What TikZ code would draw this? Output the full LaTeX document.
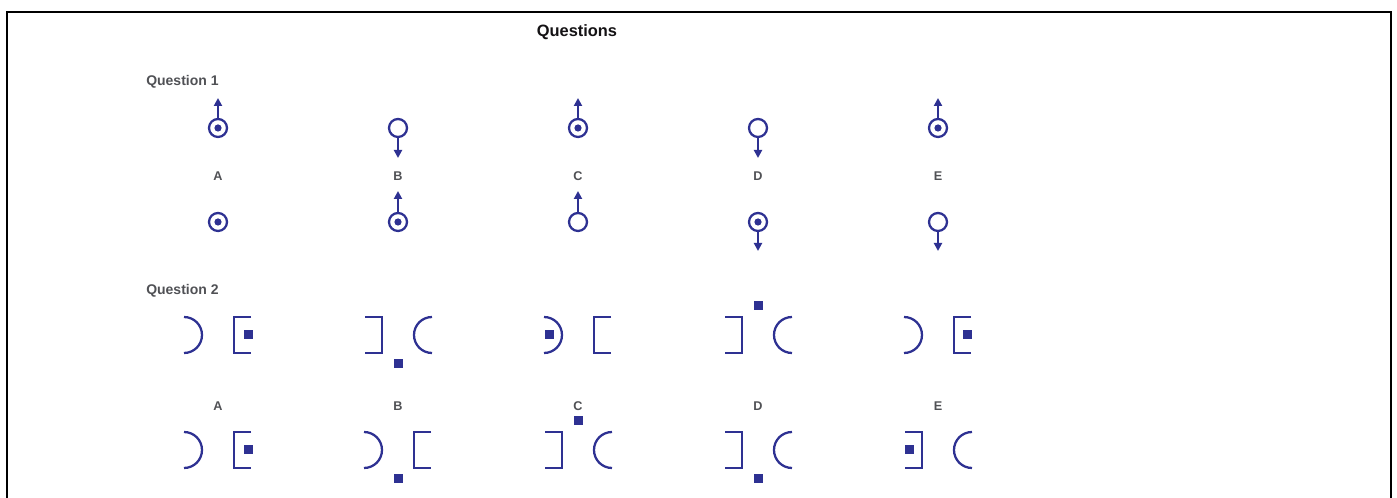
\documentclass[tikz,border=0pt]{standalone}
\usepackage{fontspec}
\setmainfont{Liberation Sans}
\usetikzlibrary{arrows.meta}
\definecolor{qblue}{RGB}{46,49,146}
\definecolor{qgray}{RGB}{80,81,85}
\definecolor{qblack}{RGB}{20,18,20}
\tikzset{
  shp/.style={draw=qblue,line width=1.7pt},
  lpar/.pic={\draw[shp] (-34,-18) arc[start angle=-90,end angle=90,radius=18];},
  rpar/.pic={\draw[shp] (34,-18) arc[start angle=270,end angle=90,radius=18];},
  lbrk/.pic={\draw[shp] (-33,-18) -- (-16,-18) -- (-16,18) -- (-33,18);},
  rbrk/.pic={\draw[shp] (33,-18) -- (16,-18) -- (16,18) -- (33,18);},
  sqr/.pic={\fill[qblue] (-4.5,-4.5) rectangle (4.5,4.5);}
}
\begin{document}
\begin{tikzpicture}[x=0.75pt,y=-0.75pt,
  coil/.style={circle,draw=qblue,line width=1.7pt,minimum size=13.5pt,inner sep=0pt},
  dot/.style={path picture={\fill[qblue] (path picture bounding box.center) circle (2.7pt);}},
  arr/.style={draw=qblue,line width=1.9pt,-{Triangle[length=6pt,width=6pt]}},
  lbl/.style={font=\bfseries\fontsize{9.5}{11}\selectfont,text=qgray},
  qhead/.style={font=\bfseries\fontsize{10.5}{12}\selectfont,text=qgray,anchor=west,inner sep=0pt},
]
\useasboundingbox (0,0) rectangle (1397,498);
\fill[white] (0,0) rectangle (1397,498);
\draw[black,line width=2.2pt,line join=miter] (7,510) -- (7,12) -- (1391,12) -- (1391,510);

\node[font=\bfseries\fontsize{12.3}{14}\selectfont,text=qblack] (title) at (577,32) {Questions};

% ---------- Question 1 ----------
\node[qhead] (q1) at (146,82) {Question 1};

\node[coil,dot] (A1) at (218,128) {};
\node[coil,dot] (A2) at (218,222) {};
\coordinate (A1e) at (218,98);
\draw[arr] (A1) -- (A1e);

\node[coil] (B1) at (398,128) {};
\node[coil,dot] (B2) at (398,222) {};
\coordinate (B1e) at (398,158);
\coordinate (B2e) at (398,191);
\draw[arr] (B1) -- (B1e);
\draw[arr] (B2) -- (B2e);

\node[coil,dot] (C1) at (578,128) {};
\node[coil] (C2) at (578,222) {};
\coordinate (C1e) at (578,98);
\coordinate (C2e) at (578,191);
\draw[arr] (C1) -- (C1e);
\draw[arr] (C2) -- (C2e);

\node[coil] (D1) at (758,128) {};
\node[coil,dot] (D2) at (758,222) {};
\coordinate (D1e) at (758,158);
\coordinate (D2e) at (758,251);
\draw[arr] (D1) -- (D1e);
\draw[arr] (D2) -- (D2e);

\node[coil,dot] (E1) at (938,128) {};
\node[coil] (E2) at (938,222) {};
\coordinate (E1e) at (938,98);
\coordinate (E2e) at (938,251);
\draw[arr] (E1) -- (E1e);
\draw[arr] (E2) -- (E2e);

\node[lbl] (la1) at (218,176) {A};
\node[lbl] (lb1) at (398,176) {B};
\node[lbl] (lc1) at (578,176) {C};
\node[lbl] (ld1) at (758,176) {D};
\node[lbl] (le1) at (938,176) {E};

% ---------- Question 2 ----------
\node[qhead] (q2) at (146,291) {Question 2};

% top row
\pic at (218,335) {lpar}; \pic at (218,335) {rbrk}; \pic at (248,335) {sqr};
\pic at (398,335) {lbrk}; \pic at (398,335) {rpar}; \pic at (398,364) {sqr};
\pic at (578,335) {lpar}; \pic at (578,335) {rbrk}; \pic at (549,335) {sqr};
\pic at (758,335) {lbrk}; \pic at (758,335) {rpar}; \pic at (758,306) {sqr};
\pic at (938,335) {lpar}; \pic at (938,335) {rbrk}; \pic at (967,335) {sqr};

% bottom row
\pic at (218,450) {lpar}; \pic at (218,450) {rbrk}; \pic at (248,450) {sqr};
\pic at (398,450) {lpar}; \pic at (398,450) {rbrk}; \pic at (398,479) {sqr};
\pic at (578,450) {lbrk}; \pic at (578,450) {rpar}; \pic at (578,421) {sqr};
\pic at (758,450) {lbrk}; \pic at (758,450) {rpar}; \pic at (758,479) {sqr};
\pic at (938,450) {lbrk}; \pic at (938,450) {rpar}; \pic at (909,450) {sqr};

\node[lbl] (la2) at (218,406) {A};
\node[lbl] (lb2) at (398,406) {B};
\node[lbl] (lc2) at (578,406) {C};
\node[lbl] (ld2) at (758,406) {D};
\node[lbl] (le2) at (938,406) {E};
\end{tikzpicture}
\end{document}
